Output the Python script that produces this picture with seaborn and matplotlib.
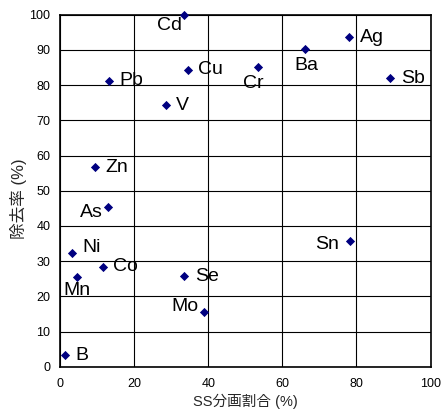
import matplotlib
matplotlib.use("Agg")
import matplotlib.pyplot as plt
import seaborn as sns
import pandas as pd

elements = ["Cd", "Pb", "Cu", "V", "Zn", "Cr", "Ba", "Ag", "Sb",
            "As", "Ni", "Co", "Mn", "Se", "Mo", "B", "Sn"]
ss_fraction = [33.6, 13.2, 34.6, 28.5, 9.5, 53.5, 66.2, 78.1, 89.2,
               12.9, 3.2, 11.5, 4.5, 33.5, 38.9, 1.3, 78.4]
removal_rate = [100.0, 81.3, 84.4, 74.3, 56.7, 85.2, 90.3, 93.8, 82.0,
                45.5, 32.4, 28.4, 25.4, 25.7, 15.5, 3.3, 35.6]

x_ticks = [0, 20, 40, 60, 80, 100]
y_ticks = [0, 10, 20, 30, 40, 50, 60, 70, 80, 90, 100]
x_label = "SS分画割合 (%)"
y_label = "除去率 (%)"

# label placement: (dx pt, dy pt, ha, va)
label_pos = {
    "Cd": (-2, -8, "right", "center"),
    "Pb": (7.4, 0, "left", "center"),
    "Cu": (7, 0, "left", "center"),
    "V": (7.2, 0, "left", "center"),
    "Zn": (7, 0, "left", "center"),
    "Cr": (-3.5, -11.7, "center", "center"),
    "Ba": (0.5, -11.7, "center", "center"),
    "Ag": (7.7, -1, "left", "center"),
    "Sb": (7.9, 0, "left", "center"),
    "As": (-3.6, -4.5, "right", "center"),
    "Ni": (7.6, 3.7, "left", "center"),
    "Co": (7.2, 0, "left", "center"),
    "Mn": (0, -9.5, "center", "center"),
    "Se": (7.7, 0, "left", "center"),
    "Mo": (-4.1, 4.3, "right", "center"),
    "B": (7.4, 0, "left", "center"),
    "Sn": (-7.9, -2.4, "right", "center"),
}

sns.set_style("white")
plt.rcParams["font.family"] = ["Liberation Sans", "Noto Sans CJK JP", "DejaVu Sans"]

df = pd.DataFrame({"x": ss_fraction, "y": removal_rate, "el": elements})

fig = plt.figure(figsize=(4.41, 4.12), dpi=100)
ax = fig.add_axes([60 / 441, 1 - 366.7 / 412, 370.5 / 441, 352 / 412])
sns.scatterplot(data=df, x="x", y="y", marker="D", s=22, color="#000080",
                edgecolor="#000080", linewidth=0, ax=ax, zorder=3, clip_on=False)

for el, xv, yv in zip(elements, ss_fraction, removal_rate):
    dx, dy, ha, va = label_pos[el]
    ax.annotate(el, (xv, yv), xytext=(dx, dy), textcoords="offset points",
                ha=ha, va=va, fontsize=14, color="black", zorder=4)

ax.set_xlim(0, 100)
ax.set_ylim(0, 100)
ax.set_xticks(x_ticks)
ax.set_yticks(y_ticks)
ax.grid(True, color="black", linewidth=0.8)
ax.set_axisbelow(True)
for sp in ax.spines.values():
    sp.set_color("black")
    sp.set_linewidth(1.2)
    sp.set_visible(True)
ax.tick_params(axis="both", length=0, labelsize=9, colors="black")
ax.tick_params(axis="x", pad=8)
ax.tick_params(axis="y", pad=7)
ax.set_xlabel(x_label, fontsize=10.5, labelpad=3)
ax.set_ylabel(y_label, fontsize=12)
ax.yaxis.set_label_coords(-0.09, 0.478)

fig.savefig("out.png", dpi=100)
